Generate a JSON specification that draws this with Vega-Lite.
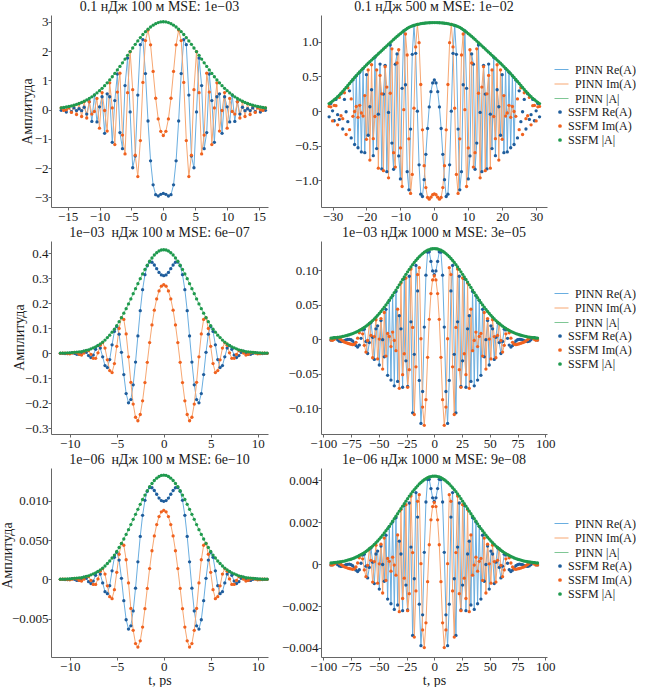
{
  "$schema": "https://vega.github.io/schema/vega-lite/v6.json",
  "padding": {"left": 0, "top": 0, "right": 0, "bottom": 0},
  "data": {
    "values": [
      {"p":1,"t":0,"re":-2.866,"im":-0.887,"ab":3.0},
      {"p":1,"t":0.4,"re":-2.898,"im":-0.746,"ab":2.993},
      {"p":1,"t":0.8,"re":-2.954,"im":-0.32,"ab":2.971},
      {"p":1,"t":1.2,"re":-2.909,"im":0.386,"ab":2.934},
      {"p":1,"t":1.6,"re":-2.574,"im":1.301,"ab":2.884},
      {"p":1,"t":2.0,"re":-1.754,"im":2.21,"ab":2.821},
      {"p":1,"t":2.4,"re":-0.391,"im":2.718,"ab":2.746},
      {"p":1,"t":2.8,"re":1.23,"im":2.357,"ab":2.659},
      {"p":1,"t":3.2,"re":2.39,"im":0.926,"ab":2.563},
      {"p":1,"t":3.6,"re":2.217,"im":-1.061,"ab":2.458},
      {"p":1,"t":4.0,"re":0.494,"im":-2.292,"ab":2.345},
      {"p":1,"t":4.4,"re":-1.591,"im":-1.558,"ab":2.227},
      {"p":1,"t":4.8,"re":-1.99,"im":0.679,"ab":2.103},
      {"p":1,"t":5.2,"re":-0.083,"im":1.977,"ab":1.979},
      {"p":1,"t":5.6,"re":1.759,"im":0.576,"ab":1.851},
      {"p":1,"t":6.0,"re":0.82,"im":-1.516,"ab":1.724},
      {"p":1,"t":6.4,"re":-1.338,"im":-0.872,"ab":1.597},
      {"p":1,"t":6.8,"re":-0.788,"im":1.244,"ab":1.473},
      {"p":1,"t":7.2,"re":1.214,"im":0.595,"ab":1.352},
      {"p":1,"t":7.6,"re":0.306,"im":-1.196,"ab":1.234},
      {"p":1,"t":8.0,"re":-1.12,"im":0.056,"ab":1.121},
      {"p":1,"t":8.4,"re":0.438,"im":0.914,"ab":1.013},
      {"p":1,"t":8.8,"re":0.537,"im":-0.736,"ab":0.911},
      {"p":1,"t":9.2,"re":-0.814,"im":-0.033,"ab":0.815},
      {"p":1,"t":9.6,"re":0.436,"im":0.58,"ab":0.726},
      {"p":1,"t":10.0,"re":0.093,"im":-0.637,"ab":0.644},
      {"p":1,"t":10.4,"re":-0.423,"im":0.38,"ab":0.568},
      {"p":1,"t":10.8,"re":0.494,"im":-0.067,"ab":0.498},
      {"p":1,"t":11.2,"re":-0.406,"im":-0.156,"ab":0.435},
      {"p":1,"t":11.6,"re":0.27,"im":0.264,"ab":0.378},
      {"p":1,"t":12.0,"re":-0.154,"im":-0.289,"ab":0.327},
      {"p":1,"t":12.4,"re":0.077,"im":0.271,"ab":0.282},
      {"p":1,"t":12.8,"re":-0.038,"im":-0.238,"ab":0.241},
      {"p":1,"t":13.2,"re":0.028,"im":0.204,"ab":0.206},
      {"p":1,"t":13.6,"re":-0.036,"im":-0.17,"ab":0.174},
      {"p":1,"t":14.0,"re":0.055,"im":0.136,"ab":0.147},
      {"p":1,"t":14.4,"re":-0.074,"im":-0.098,"ab":0.123},
      {"p":1,"t":14.8,"re":0.087,"im":0.055,"ab":0.103},
      {"p":1,"t":15.2,"re":-0.086,"im":-0.009,"ab":0.086},
      {"p":1,"t":15.6,"re":0.064,"im":-0.031,"ab":0.071},
      {"p":1,"t":16.0,"re":-0.026,"im":0.052,"ab":0.058},
      {"p":1,"t":-0.4,"re":-2.898,"im":-0.746,"ab":2.993},
      {"p":1,"t":-0.8,"re":-2.954,"im":-0.32,"ab":2.971},
      {"p":1,"t":-1.2,"re":-2.909,"im":0.386,"ab":2.934},
      {"p":1,"t":-1.6,"re":-2.574,"im":1.301,"ab":2.884},
      {"p":1,"t":-2.0,"re":-1.754,"im":2.21,"ab":2.821},
      {"p":1,"t":-2.4,"re":-0.391,"im":2.718,"ab":2.746},
      {"p":1,"t":-2.8,"re":1.23,"im":2.357,"ab":2.659},
      {"p":1,"t":-3.2,"re":2.39,"im":0.926,"ab":2.563},
      {"p":1,"t":-3.6,"re":2.217,"im":-1.061,"ab":2.458},
      {"p":1,"t":-4.0,"re":0.494,"im":-2.292,"ab":2.345},
      {"p":1,"t":-4.4,"re":-1.591,"im":-1.558,"ab":2.227},
      {"p":1,"t":-4.8,"re":-1.99,"im":0.679,"ab":2.103},
      {"p":1,"t":-5.2,"re":-0.083,"im":1.977,"ab":1.979},
      {"p":1,"t":-5.6,"re":1.759,"im":0.576,"ab":1.851},
      {"p":1,"t":-6.0,"re":0.82,"im":-1.516,"ab":1.724},
      {"p":1,"t":-6.4,"re":-1.338,"im":-0.872,"ab":1.597},
      {"p":1,"t":-6.8,"re":-0.788,"im":1.244,"ab":1.473},
      {"p":1,"t":-7.2,"re":1.214,"im":0.595,"ab":1.352},
      {"p":1,"t":-7.6,"re":0.306,"im":-1.196,"ab":1.234},
      {"p":1,"t":-8.0,"re":-1.12,"im":0.056,"ab":1.121},
      {"p":1,"t":-8.4,"re":0.438,"im":0.914,"ab":1.013},
      {"p":1,"t":-8.8,"re":0.537,"im":-0.736,"ab":0.911},
      {"p":1,"t":-9.2,"re":-0.814,"im":-0.033,"ab":0.815},
      {"p":1,"t":-9.6,"re":0.436,"im":0.58,"ab":0.726},
      {"p":1,"t":-10.0,"re":0.093,"im":-0.637,"ab":0.644},
      {"p":1,"t":-10.4,"re":-0.423,"im":0.38,"ab":0.568},
      {"p":1,"t":-10.8,"re":0.494,"im":-0.067,"ab":0.498},
      {"p":1,"t":-11.2,"re":-0.406,"im":-0.156,"ab":0.435},
      {"p":1,"t":-11.6,"re":0.27,"im":0.264,"ab":0.378},
      {"p":1,"t":-12.0,"re":-0.154,"im":-0.289,"ab":0.327},
      {"p":1,"t":-12.4,"re":0.077,"im":0.271,"ab":0.282},
      {"p":1,"t":-12.8,"re":-0.038,"im":-0.238,"ab":0.241},
      {"p":1,"t":-13.2,"re":0.028,"im":0.204,"ab":0.206},
      {"p":1,"t":-13.6,"re":-0.036,"im":-0.17,"ab":0.174},
      {"p":1,"t":-14.0,"re":0.055,"im":0.136,"ab":0.147},
      {"p":1,"t":-14.4,"re":-0.074,"im":-0.098,"ab":0.123},
      {"p":1,"t":-14.8,"re":0.087,"im":0.055,"ab":0.103},
      {"p":1,"t":-15.2,"re":-0.086,"im":-0.009,"ab":0.086},
      {"p":1,"t":-15.6,"re":0.064,"im":-0.031,"ab":0.071},
      {"p":1,"t":-16.0,"re":-0.026,"im":0.052,"ab":0.058},

      {"p":2,"t":0,"re":0.449,"im":-1.199,"ab":1.28},
      {"p":2,"t":0.5,"re":0.407,"im":-1.213,"ab":1.28},
      {"p":2,"t":1,"re":0.28,"im":-1.248,"ab":1.279},
      {"p":2,"t":1.5,"re":0.059,"im":-1.277,"ab":1.278},
      {"p":2,"t":2,"re":-0.253,"im":-1.251,"ab":1.276},
      {"p":2,"t":2.5,"re":-0.627,"im":-1.109,"ab":1.274},
      {"p":2,"t":3,"re":-0.994,"im":-0.792,"ab":1.271},
      {"p":2,"t":3.5,"re":-1.238,"im":-0.272,"ab":1.268},
      {"p":2,"t":4,"re":-1.204,"im":0.384,"ab":1.264},
      {"p":2,"t":4.5,"re":-0.779,"im":0.989,"ab":1.259},
      {"p":2,"t":5,"re":-0.003,"im":1.254,"ab":1.254},
      {"p":2,"t":5.5,"re":0.835,"im":0.928,"ab":1.248},
      {"p":2,"t":6,"re":1.239,"im":0.041,"ab":1.24},
      {"p":2,"t":6.5,"re":0.82,"im":-0.918,"ab":1.231},
      {"p":2,"t":7,"re":-0.262,"im":-1.194,"ab":1.222},
      {"p":2,"t":7.5,"re":-1.141,"im":-0.403,"ab":1.21},
      {"p":2,"t":8,"re":-0.878,"im":0.811,"ab":1.195},
      {"p":2,"t":8.5,"re":0.38,"im":1.115,"ab":1.178},
      {"p":2,"t":9,"re":1.16,"im":0.019,"ab":1.16},
      {"p":2,"t":9.5,"re":0.328,"im":-1.093,"ab":1.141},
      {"p":2,"t":10,"re":-0.984,"im":-0.535,"ab":1.12},
      {"p":2,"t":10.5,"re":-0.651,"im":0.887,"ab":1.1},
      {"p":2,"t":11,"re":0.826,"im":0.695,"ab":1.08},
      {"p":2,"t":11.5,"re":0.678,"im":-0.812,"ab":1.058},
      {"p":2,"t":12,"re":-0.843,"im":-0.603,"ab":1.036},
      {"p":2,"t":12.5,"re":-0.465,"im":0.9,"ab":1.013},
      {"p":2,"t":13,"re":0.956,"im":0.257,"ab":0.99},
      {"p":2,"t":13.5,"re":-0.021,"im":-0.967,"ab":0.967},
      {"p":2,"t":14,"re":-0.878,"im":0.347,"ab":0.944},
      {"p":2,"t":14.5,"re":0.661,"im":0.642,"ab":0.921},
      {"p":2,"t":15,"re":0.245,"im":-0.864,"ab":0.898},
      {"p":2,"t":15.5,"re":-0.839,"im":0.248,"ab":0.875},
      {"p":2,"t":16,"re":0.679,"im":0.515,"ab":0.852},
      {"p":2,"t":16.5,"re":-0.046,"im":-0.828,"ab":0.829},
      {"p":2,"t":17,"re":-0.544,"im":0.595,"ab":0.806},
      {"p":2,"t":17.5,"re":0.779,"im":-0.08,"ab":0.783},
      {"p":2,"t":18,"re":-0.647,"im":-0.4,"ab":0.76},
      {"p":2,"t":18.5,"re":0.308,"im":0.67,"ab":0.737},
      {"p":2,"t":19,"re":0.062,"im":-0.711,"ab":0.714},
      {"p":2,"t":19.5,"re":-0.351,"im":0.595,"ab":0.691},
      {"p":2,"t":20,"re":0.526,"im":-0.41,"ab":0.667},
      {"p":2,"t":20.5,"re":-0.603,"im":0.223,"ab":0.643},
      {"p":2,"t":21,"re":0.614,"im":-0.073,"ab":0.618},
      {"p":2,"t":21.5,"re":-0.592,"im":-0.029,"ab":0.593},
      {"p":2,"t":22,"re":0.561,"im":0.082,"ab":0.567},
      {"p":2,"t":22.5,"re":-0.532,"im":-0.092,"ab":0.54},
      {"p":2,"t":23,"re":0.509,"im":0.066,"ab":0.513},
      {"p":2,"t":23.5,"re":-0.485,"im":-0.007,"ab":0.485},
      {"p":2,"t":24,"re":0.45,"im":-0.077,"ab":0.456},
      {"p":2,"t":24.5,"re":-0.39,"im":0.175,"ab":0.427},
      {"p":2,"t":25,"re":0.292,"im":-0.27,"ab":0.398},
      {"p":2,"t":25.5,"re":-0.155,"im":0.335,"ab":0.369},
      {"p":2,"t":26,"re":-0.011,"im":-0.34,"ab":0.34},
      {"p":2,"t":26.5,"re":0.167,"im":0.264,"ab":0.312},
      {"p":2,"t":27,"re":-0.261,"im":-0.111,"ab":0.284},
      {"p":2,"t":27.5,"re":0.248,"im":-0.069,"ab":0.257},
      {"p":2,"t":28,"re":-0.122,"im":0.196,"ab":0.231},
      {"p":2,"t":28.5,"re":-0.053,"im":-0.2,"ab":0.207},
      {"p":2,"t":29,"re":0.167,"im":0.077,"ab":0.184},
      {"p":2,"t":29.5,"re":-0.141,"im":0.081,"ab":0.163},
      {"p":2,"t":30,"re":0.003,"im":-0.143,"ab":0.143},
      {"p":2,"t":30.5,"re":0.11,"im":0.06,"ab":0.125},
      {"p":2,"t":31,"re":-0.085,"im":0.066,"ab":0.108},
      {"p":2,"t":-0.5,"re":0.407,"im":-1.213,"ab":1.28},
      {"p":2,"t":-1,"re":0.28,"im":-1.248,"ab":1.279},
      {"p":2,"t":-1.5,"re":0.059,"im":-1.277,"ab":1.278},
      {"p":2,"t":-2,"re":-0.253,"im":-1.251,"ab":1.276},
      {"p":2,"t":-2.5,"re":-0.627,"im":-1.109,"ab":1.274},
      {"p":2,"t":-3,"re":-0.994,"im":-0.792,"ab":1.271},
      {"p":2,"t":-3.5,"re":-1.238,"im":-0.272,"ab":1.268},
      {"p":2,"t":-4,"re":-1.204,"im":0.384,"ab":1.264},
      {"p":2,"t":-4.5,"re":-0.779,"im":0.989,"ab":1.259},
      {"p":2,"t":-5,"re":-0.003,"im":1.254,"ab":1.254},
      {"p":2,"t":-5.5,"re":0.835,"im":0.928,"ab":1.248},
      {"p":2,"t":-6,"re":1.239,"im":0.041,"ab":1.24},
      {"p":2,"t":-6.5,"re":0.82,"im":-0.918,"ab":1.231},
      {"p":2,"t":-7,"re":-0.262,"im":-1.194,"ab":1.222},
      {"p":2,"t":-7.5,"re":-1.141,"im":-0.403,"ab":1.21},
      {"p":2,"t":-8,"re":-0.878,"im":0.811,"ab":1.195},
      {"p":2,"t":-8.5,"re":0.38,"im":1.115,"ab":1.178},
      {"p":2,"t":-9,"re":1.16,"im":0.019,"ab":1.16},
      {"p":2,"t":-9.5,"re":0.328,"im":-1.093,"ab":1.141},
      {"p":2,"t":-10,"re":-0.984,"im":-0.535,"ab":1.12},
      {"p":2,"t":-10.5,"re":-0.651,"im":0.887,"ab":1.1},
      {"p":2,"t":-11,"re":0.826,"im":0.695,"ab":1.08},
      {"p":2,"t":-11.5,"re":0.678,"im":-0.812,"ab":1.058},
      {"p":2,"t":-12,"re":-0.843,"im":-0.603,"ab":1.036},
      {"p":2,"t":-12.5,"re":-0.465,"im":0.9,"ab":1.013},
      {"p":2,"t":-13,"re":0.956,"im":0.257,"ab":0.99},
      {"p":2,"t":-13.5,"re":-0.021,"im":-0.967,"ab":0.967},
      {"p":2,"t":-14,"re":-0.878,"im":0.347,"ab":0.944},
      {"p":2,"t":-14.5,"re":0.661,"im":0.642,"ab":0.921},
      {"p":2,"t":-15,"re":0.245,"im":-0.864,"ab":0.898},
      {"p":2,"t":-15.5,"re":-0.839,"im":0.248,"ab":0.875},
      {"p":2,"t":-16,"re":0.679,"im":0.515,"ab":0.852},
      {"p":2,"t":-16.5,"re":-0.046,"im":-0.828,"ab":0.829},
      {"p":2,"t":-17,"re":-0.544,"im":0.595,"ab":0.806},
      {"p":2,"t":-17.5,"re":0.779,"im":-0.08,"ab":0.783},
      {"p":2,"t":-18,"re":-0.647,"im":-0.4,"ab":0.76},
      {"p":2,"t":-18.5,"re":0.308,"im":0.67,"ab":0.737},
      {"p":2,"t":-19,"re":0.062,"im":-0.711,"ab":0.714},
      {"p":2,"t":-19.5,"re":-0.351,"im":0.595,"ab":0.691},
      {"p":2,"t":-20,"re":0.526,"im":-0.41,"ab":0.667},
      {"p":2,"t":-20.5,"re":-0.603,"im":0.223,"ab":0.643},
      {"p":2,"t":-21,"re":0.614,"im":-0.073,"ab":0.618},
      {"p":2,"t":-21.5,"re":-0.592,"im":-0.029,"ab":0.593},
      {"p":2,"t":-22,"re":0.561,"im":0.082,"ab":0.567},
      {"p":2,"t":-22.5,"re":-0.532,"im":-0.092,"ab":0.54},
      {"p":2,"t":-23,"re":0.509,"im":0.066,"ab":0.513},
      {"p":2,"t":-23.5,"re":-0.485,"im":-0.007,"ab":0.485},
      {"p":2,"t":-24,"re":0.45,"im":-0.077,"ab":0.456},
      {"p":2,"t":-24.5,"re":-0.39,"im":0.175,"ab":0.427},
      {"p":2,"t":-25,"re":0.292,"im":-0.27,"ab":0.398},
      {"p":2,"t":-25.5,"re":-0.155,"im":0.335,"ab":0.369},
      {"p":2,"t":-26,"re":-0.011,"im":-0.34,"ab":0.34},
      {"p":2,"t":-26.5,"re":0.167,"im":0.264,"ab":0.312},
      {"p":2,"t":-27,"re":-0.261,"im":-0.111,"ab":0.284},
      {"p":2,"t":-27.5,"re":0.248,"im":-0.069,"ab":0.257},
      {"p":2,"t":-28,"re":-0.122,"im":0.196,"ab":0.231},
      {"p":2,"t":-28.5,"re":-0.053,"im":-0.2,"ab":0.207},
      {"p":2,"t":-29,"re":0.167,"im":0.077,"ab":0.184},
      {"p":2,"t":-29.5,"re":-0.141,"im":0.081,"ab":0.163},
      {"p":2,"t":-30,"re":0.003,"im":-0.143,"ab":0.143},
      {"p":2,"t":-30.5,"re":0.11,"im":0.06,"ab":0.125},
      {"p":2,"t":-31,"re":-0.085,"im":0.066,"ab":0.108},

      {"p":3,"t":0,"re":0.311,"im":0.275,"ab":0.415},
      {"p":3,"t":0.25,"re":0.314,"im":0.269,"ab":0.414},
      {"p":3,"t":0.5,"re":0.324,"im":0.25,"ab":0.41},
      {"p":3,"t":0.75,"re":0.339,"im":0.218,"ab":0.403},
      {"p":3,"t":1.0,"re":0.354,"im":0.173,"ab":0.394},
      {"p":3,"t":1.25,"re":0.365,"im":0.114,"ab":0.382},
      {"p":3,"t":1.5,"re":0.366,"im":0.043,"ab":0.369},
      {"p":3,"t":1.75,"re":0.351,"im":-0.036,"ab":0.353},
      {"p":3,"t":2.0,"re":0.315,"im":-0.117,"ab":0.336},
      {"p":3,"t":2.25,"re":0.255,"im":-0.19,"ab":0.318},
      {"p":3,"t":2.5,"re":0.171,"im":-0.245,"ab":0.299},
      {"p":3,"t":2.75,"re":0.07,"im":-0.27,"ab":0.279},
      {"p":3,"t":3.0,"re":-0.035,"im":-0.256,"ab":0.259},
      {"p":3,"t":3.25,"re":-0.126,"im":-0.203,"ab":0.239},
      {"p":3,"t":3.5,"re":-0.185,"im":-0.116,"ab":0.218},
      {"p":3,"t":3.75,"re":-0.198,"im":-0.014,"ab":0.198},
      {"p":3,"t":4.0,"re":-0.161,"im":0.078,"ab":0.179},
      {"p":3,"t":4.25,"re":-0.085,"im":0.136,"ab":0.161},
      {"p":3,"t":4.5,"re":0.004,"im":0.143,"ab":0.143},
      {"p":3,"t":4.75,"re":0.077,"im":0.1,"ab":0.127},
      {"p":3,"t":5.0,"re":0.108,"im":0.028,"ab":0.111},
      {"p":3,"t":5.25,"re":0.088,"im":-0.041,"ab":0.097},
      {"p":3,"t":5.5,"re":0.034,"im":-0.077,"ab":0.085},
      {"p":3,"t":5.75,"re":-0.025,"im":-0.069,"ab":0.073},
      {"p":3,"t":6.0,"re":-0.057,"im":-0.026,"ab":0.063},
      {"p":3,"t":6.25,"re":-0.049,"im":0.021,"ab":0.053},
      {"p":3,"t":6.5,"re":-0.014,"im":0.043,"ab":0.045},
      {"p":3,"t":6.75,"re":0.021,"im":0.032,"ab":0.038},
      {"p":3,"t":7.0,"re":0.031,"im":0.002,"ab":0.032},
      {"p":3,"t":7.25,"re":0.016,"im":-0.02,"ab":0.026},
      {"p":3,"t":7.5,"re":-0.007,"im":-0.02,"ab":0.022},
      {"p":3,"t":7.75,"re":-0.017,"im":-0.004,"ab":0.018},
      {"p":3,"t":8.0,"re":-0.009,"im":0.011,"ab":0.014},
      {"p":3,"t":8.25,"re":0.004,"im":0.011,"ab":0.012},
      {"p":3,"t":8.5,"re":0.009,"im":0.001,"ab":0.009},
      {"p":3,"t":8.75,"re":0.003,"im":-0.007,"ab":0.007},
      {"p":3,"t":9.0,"re":-0.004,"im":-0.004,"ab":0.006},
      {"p":3,"t":9.25,"re":-0.004,"im":0.002,"ab":0.005},
      {"p":3,"t":9.5,"re":0.0,"im":0.004,"ab":0.004},
      {"p":3,"t":9.75,"re":0.003,"im":0.001,"ab":0.003},
      {"p":3,"t":10.0,"re":0.001,"im":-0.002,"ab":0.002},
      {"p":3,"t":10.25,"re":-0.001,"im":-0.001,"ab":0.002},
      {"p":3,"t":10.5,"re":-0.001,"im":0.001,"ab":0.001},
      {"p":3,"t":10.75,"re":0.0,"im":0.001,"ab":0.001},
      {"p":3,"t":11.0,"re":0.0,"im":0.0,"ab":0.001},
      {"p":3,"t":-0.25,"re":0.314,"im":0.269,"ab":0.414},
      {"p":3,"t":-0.5,"re":0.324,"im":0.25,"ab":0.41},
      {"p":3,"t":-0.75,"re":0.339,"im":0.218,"ab":0.403},
      {"p":3,"t":-1.0,"re":0.354,"im":0.173,"ab":0.394},
      {"p":3,"t":-1.25,"re":0.365,"im":0.114,"ab":0.382},
      {"p":3,"t":-1.5,"re":0.366,"im":0.043,"ab":0.369},
      {"p":3,"t":-1.75,"re":0.351,"im":-0.036,"ab":0.353},
      {"p":3,"t":-2.0,"re":0.315,"im":-0.117,"ab":0.336},
      {"p":3,"t":-2.25,"re":0.255,"im":-0.19,"ab":0.318},
      {"p":3,"t":-2.5,"re":0.171,"im":-0.245,"ab":0.299},
      {"p":3,"t":-2.75,"re":0.07,"im":-0.27,"ab":0.279},
      {"p":3,"t":-3.0,"re":-0.035,"im":-0.256,"ab":0.259},
      {"p":3,"t":-3.25,"re":-0.126,"im":-0.203,"ab":0.239},
      {"p":3,"t":-3.5,"re":-0.185,"im":-0.116,"ab":0.218},
      {"p":3,"t":-3.75,"re":-0.198,"im":-0.014,"ab":0.198},
      {"p":3,"t":-4.0,"re":-0.161,"im":0.078,"ab":0.179},
      {"p":3,"t":-4.25,"re":-0.085,"im":0.136,"ab":0.161},
      {"p":3,"t":-4.5,"re":0.004,"im":0.143,"ab":0.143},
      {"p":3,"t":-4.75,"re":0.077,"im":0.1,"ab":0.127},
      {"p":3,"t":-5.0,"re":0.108,"im":0.028,"ab":0.111},
      {"p":3,"t":-5.25,"re":0.088,"im":-0.041,"ab":0.097},
      {"p":3,"t":-5.5,"re":0.034,"im":-0.077,"ab":0.085},
      {"p":3,"t":-5.75,"re":-0.025,"im":-0.069,"ab":0.073},
      {"p":3,"t":-6.0,"re":-0.057,"im":-0.026,"ab":0.063},
      {"p":3,"t":-6.25,"re":-0.049,"im":0.021,"ab":0.053},
      {"p":3,"t":-6.5,"re":-0.014,"im":0.043,"ab":0.045},
      {"p":3,"t":-6.75,"re":0.021,"im":0.032,"ab":0.038},
      {"p":3,"t":-7.0,"re":0.031,"im":0.002,"ab":0.032},
      {"p":3,"t":-7.25,"re":0.016,"im":-0.02,"ab":0.026},
      {"p":3,"t":-7.5,"re":-0.007,"im":-0.02,"ab":0.022},
      {"p":3,"t":-7.75,"re":-0.017,"im":-0.004,"ab":0.018},
      {"p":3,"t":-8.0,"re":-0.009,"im":0.011,"ab":0.014},
      {"p":3,"t":-8.25,"re":0.004,"im":0.011,"ab":0.012},
      {"p":3,"t":-8.5,"re":0.009,"im":0.001,"ab":0.009},
      {"p":3,"t":-8.75,"re":0.003,"im":-0.007,"ab":0.007},
      {"p":3,"t":-9.0,"re":-0.004,"im":-0.004,"ab":0.006},
      {"p":3,"t":-9.25,"re":-0.004,"im":0.002,"ab":0.005},
      {"p":3,"t":-9.5,"re":0.0,"im":0.004,"ab":0.004},
      {"p":3,"t":-9.75,"re":0.003,"im":0.001,"ab":0.003},
      {"p":3,"t":-10.0,"re":0.001,"im":-0.002,"ab":0.002},
      {"p":3,"t":-10.25,"re":-0.001,"im":-0.001,"ab":0.002},
      {"p":3,"t":-10.5,"re":-0.001,"im":0.001,"ab":0.001},
      {"p":3,"t":-10.75,"re":0.0,"im":0.001,"ab":0.001},
      {"p":3,"t":-11.0,"re":0.0,"im":0.0,"ab":0.001},

      {"p":4,"t":0,"re":0.0935,"im":0.0918,"ab":0.131},
      {"p":4,"t":1.5,"re":0.0988,"im":0.0857,"ab":0.1308},
      {"p":4,"t":3,"re":0.1125,"im":0.066,"ab":0.1304},
      {"p":4,"t":4.5,"re":0.1264,"im":0.0288,"ab":0.1296},
      {"p":4,"t":6,"re":0.1259,"im":-0.0262,"ab":0.1286},
      {"p":4,"t":7.5,"re":0.0926,"im":-0.0874,"ab":0.1273},
      {"p":4,"t":9,"re":0.0175,"im":-0.1245,"ab":0.1257},
      {"p":4,"t":10.5,"re":-0.0756,"im":-0.0981,"ab":0.1238},
      {"p":4,"t":12,"re":-0.1217,"im":0.0007,"ab":0.1217},
      {"p":4,"t":13.5,"re":-0.0596,"im":0.1034,"ab":0.1193},
      {"p":4,"t":15,"re":0.0699,"im":0.0935,"ab":0.1167},
      {"p":4,"t":16.5,"re":0.1067,"im":-0.0399,"ab":0.1139},
      {"p":4,"t":18,"re":-0.0218,"im":-0.1088,"ab":0.111},
      {"p":4,"t":19.5,"re":-0.1064,"im":0.0171,"ab":0.1078},
      {"p":4,"t":21,"re":0.0252,"im":0.1014,"ab":0.1045},
      {"p":4,"t":22.5,"re":0.091,"im":-0.044,"ab":0.1011},
      {"p":4,"t":24,"re":-0.0683,"im":-0.0695,"ab":0.0975},
      {"p":4,"t":25.5,"re":-0.0312,"im":0.0885,"ab":0.0938},
      {"p":4,"t":27,"re":0.0876,"im":-0.021,"ab":0.0901},
      {"p":4,"t":28.5,"re":-0.0694,"im":-0.0513,"ab":0.0863},
      {"p":4,"t":30,"re":0.015,"im":0.0812,"ab":0.0826},
      {"p":4,"t":31.5,"re":0.034,"im":-0.071,"ab":0.0787},
      {"p":4,"t":33,"re":-0.061,"im":0.0434,"ab":0.0749},
      {"p":4,"t":34.5,"re":0.0691,"im":-0.0166,"ab":0.0711},
      {"p":4,"t":36,"re":-0.0674,"im":-0.0017,"ab":0.0674},
      {"p":4,"t":37.5,"re":0.0628,"im":0.0103,"ab":0.0636},
      {"p":4,"t":39,"re":-0.0591,"im":-0.0106,"ab":0.06},
      {"p":4,"t":40.5,"re":0.0563,"im":0.004,"ab":0.0564},
      {"p":4,"t":42,"re":-0.0522,"im":0.0084,"ab":0.0529},
      {"p":4,"t":43.5,"re":0.0432,"im":-0.0243,"ab":0.0496},
      {"p":4,"t":45,"re":-0.0255,"im":0.0386,"ab":0.0463},
      {"p":4,"t":46.5,"re":-0.0006,"im":-0.0432,"ab":0.0432},
      {"p":4,"t":48,"re":0.0269,"im":0.0298,"ab":0.0401},
      {"p":4,"t":49.5,"re":-0.0373,"im":0.0002,"ab":0.0373},
      {"p":4,"t":51,"re":0.0194,"im":-0.0285,"ab":0.0345},
      {"p":4,"t":52.5,"re":0.015,"im":0.0282,"ab":0.0319},
      {"p":4,"t":54,"re":-0.0292,"im":0.0038,"ab":0.0294},
      {"p":4,"t":55.5,"re":0.0029,"im":-0.0268,"ab":0.027},
      {"p":4,"t":57,"re":0.0242,"im":0.0055,"ab":0.0248},
      {"p":4,"t":58.5,"re":-0.0049,"im":0.0222,"ab":0.0227},
      {"p":4,"t":60,"re":-0.0206,"im":-0.0018,"ab":0.0207},
      {"p":4,"t":61.5,"re":-0.0032,"im":-0.0186,"ab":0.0189},
      {"p":4,"t":63,"re":0.0146,"im":-0.0088,"ab":0.0171},
      {"p":4,"t":64.5,"re":0.0134,"im":0.0078,"ab":0.0155},
      {"p":4,"t":66,"re":0.0013,"im":0.0139,"ab":0.014},
      {"p":4,"t":67.5,"re":-0.0085,"im":0.0094,"ab":0.0127},
      {"p":4,"t":69,"re":-0.0113,"im":0.0015,"ab":0.0114},
      {"p":4,"t":70.5,"re":-0.0092,"im":-0.0045,"ab":0.0102},
      {"p":4,"t":72,"re":-0.0056,"im":-0.0073,"ab":0.0092},
      {"p":4,"t":73.5,"re":-0.0026,"im":-0.0078,"ab":0.0082},
      {"p":4,"t":75,"re":-0.0008,"im":-0.0073,"ab":0.0073},
      {"p":4,"t":76.5,"re":-0.0001,"im":-0.0065,"ab":0.0065},
      {"p":4,"t":78,"re":-0.0003,"im":-0.0058,"ab":0.0058},
      {"p":4,"t":79.5,"re":-0.001,"im":-0.005,"ab":0.0051},
      {"p":4,"t":81,"re":-0.0021,"im":-0.004,"ab":0.0045},
      {"p":4,"t":82.5,"re":-0.0031,"im":-0.0026,"ab":0.004},
      {"p":4,"t":84,"re":-0.0034,"im":-0.0006,"ab":0.0035},
      {"p":4,"t":85.5,"re":-0.0028,"im":0.0014,"ab":0.0031},
      {"p":4,"t":87,"re":-0.0009,"im":0.0025,"ab":0.0027},
      {"p":4,"t":88.5,"re":0.0013,"im":0.002,"ab":0.0024},
      {"p":4,"t":90,"re":0.0021,"im":0.0,"ab":0.0021},
      {"p":4,"t":91.5,"re":0.0008,"im":-0.0016,"ab":0.0018},
      {"p":4,"t":93,"re":-0.0012,"im":-0.0011,"ab":0.0016},
      {"p":4,"t":-1.5,"re":0.0988,"im":0.0857,"ab":0.1308},
      {"p":4,"t":-3,"re":0.1125,"im":0.066,"ab":0.1304},
      {"p":4,"t":-4.5,"re":0.1264,"im":0.0288,"ab":0.1296},
      {"p":4,"t":-6,"re":0.1259,"im":-0.0262,"ab":0.1286},
      {"p":4,"t":-7.5,"re":0.0926,"im":-0.0874,"ab":0.1273},
      {"p":4,"t":-9,"re":0.0175,"im":-0.1245,"ab":0.1257},
      {"p":4,"t":-10.5,"re":-0.0756,"im":-0.0981,"ab":0.1238},
      {"p":4,"t":-12,"re":-0.1217,"im":0.0007,"ab":0.1217},
      {"p":4,"t":-13.5,"re":-0.0596,"im":0.1034,"ab":0.1193},
      {"p":4,"t":-15,"re":0.0699,"im":0.0935,"ab":0.1167},
      {"p":4,"t":-16.5,"re":0.1067,"im":-0.0399,"ab":0.1139},
      {"p":4,"t":-18,"re":-0.0218,"im":-0.1088,"ab":0.111},
      {"p":4,"t":-19.5,"re":-0.1064,"im":0.0171,"ab":0.1078},
      {"p":4,"t":-21,"re":0.0252,"im":0.1014,"ab":0.1045},
      {"p":4,"t":-22.5,"re":0.091,"im":-0.044,"ab":0.1011},
      {"p":4,"t":-24,"re":-0.0683,"im":-0.0695,"ab":0.0975},
      {"p":4,"t":-25.5,"re":-0.0312,"im":0.0885,"ab":0.0938},
      {"p":4,"t":-27,"re":0.0876,"im":-0.021,"ab":0.0901},
      {"p":4,"t":-28.5,"re":-0.0694,"im":-0.0513,"ab":0.0863},
      {"p":4,"t":-30,"re":0.015,"im":0.0812,"ab":0.0826},
      {"p":4,"t":-31.5,"re":0.034,"im":-0.071,"ab":0.0787},
      {"p":4,"t":-33,"re":-0.061,"im":0.0434,"ab":0.0749},
      {"p":4,"t":-34.5,"re":0.0691,"im":-0.0166,"ab":0.0711},
      {"p":4,"t":-36,"re":-0.0674,"im":-0.0017,"ab":0.0674},
      {"p":4,"t":-37.5,"re":0.0628,"im":0.0103,"ab":0.0636},
      {"p":4,"t":-39,"re":-0.0591,"im":-0.0106,"ab":0.06},
      {"p":4,"t":-40.5,"re":0.0563,"im":0.004,"ab":0.0564},
      {"p":4,"t":-42,"re":-0.0522,"im":0.0084,"ab":0.0529},
      {"p":4,"t":-43.5,"re":0.0432,"im":-0.0243,"ab":0.0496},
      {"p":4,"t":-45,"re":-0.0255,"im":0.0386,"ab":0.0463},
      {"p":4,"t":-46.5,"re":-0.0006,"im":-0.0432,"ab":0.0432},
      {"p":4,"t":-48,"re":0.0269,"im":0.0298,"ab":0.0401},
      {"p":4,"t":-49.5,"re":-0.0373,"im":0.0002,"ab":0.0373},
      {"p":4,"t":-51,"re":0.0194,"im":-0.0285,"ab":0.0345},
      {"p":4,"t":-52.5,"re":0.015,"im":0.0282,"ab":0.0319},
      {"p":4,"t":-54,"re":-0.0292,"im":0.0038,"ab":0.0294},
      {"p":4,"t":-55.5,"re":0.0029,"im":-0.0268,"ab":0.027},
      {"p":4,"t":-57,"re":0.0242,"im":0.0055,"ab":0.0248},
      {"p":4,"t":-58.5,"re":-0.0049,"im":0.0222,"ab":0.0227},
      {"p":4,"t":-60,"re":-0.0206,"im":-0.0018,"ab":0.0207},
      {"p":4,"t":-61.5,"re":-0.0032,"im":-0.0186,"ab":0.0189},
      {"p":4,"t":-63,"re":0.0146,"im":-0.0088,"ab":0.0171},
      {"p":4,"t":-64.5,"re":0.0134,"im":0.0078,"ab":0.0155},
      {"p":4,"t":-66,"re":0.0013,"im":0.0139,"ab":0.014},
      {"p":4,"t":-67.5,"re":-0.0085,"im":0.0094,"ab":0.0127},
      {"p":4,"t":-69,"re":-0.0113,"im":0.0015,"ab":0.0114},
      {"p":4,"t":-70.5,"re":-0.0092,"im":-0.0045,"ab":0.0102},
      {"p":4,"t":-72,"re":-0.0056,"im":-0.0073,"ab":0.0092},
      {"p":4,"t":-73.5,"re":-0.0026,"im":-0.0078,"ab":0.0082},
      {"p":4,"t":-75,"re":-0.0008,"im":-0.0073,"ab":0.0073},
      {"p":4,"t":-76.5,"re":-0.0001,"im":-0.0065,"ab":0.0065},
      {"p":4,"t":-78,"re":-0.0003,"im":-0.0058,"ab":0.0058},
      {"p":4,"t":-79.5,"re":-0.001,"im":-0.005,"ab":0.0051},
      {"p":4,"t":-81,"re":-0.0021,"im":-0.004,"ab":0.0045},
      {"p":4,"t":-82.5,"re":-0.0031,"im":-0.0026,"ab":0.004},
      {"p":4,"t":-84,"re":-0.0034,"im":-0.0006,"ab":0.0035},
      {"p":4,"t":-85.5,"re":-0.0028,"im":0.0014,"ab":0.0031},
      {"p":4,"t":-87,"re":-0.0009,"im":0.0025,"ab":0.0027},
      {"p":4,"t":-88.5,"re":0.0013,"im":0.002,"ab":0.0024},
      {"p":4,"t":-90,"re":0.0021,"im":0.0,"ab":0.0021},
      {"p":4,"t":-91.5,"re":0.0008,"im":-0.0016,"ab":0.0018},
      {"p":4,"t":-93,"re":-0.0012,"im":-0.0011,"ab":0.0016},

      {"p":5,"t":0,"re":0.00995,"im":0.0088,"ab":0.01328},
      {"p":5,"t":0.25,"re":0.01005,"im":0.00861,"ab":0.01325},
      {"p":5,"t":0.5,"re":0.01037,"im":0.008,"ab":0.01312},
      {"p":5,"t":0.75,"re":0.01085,"im":0.00698,"ab":0.0129},
      {"p":5,"t":1.0,"re":0.01133,"im":0.00554,"ab":0.01261},
      {"p":5,"t":1.25,"re":0.01168,"im":0.00365,"ab":0.01222},
      {"p":5,"t":1.5,"re":0.01171,"im":0.00138,"ab":0.01181},
      {"p":5,"t":1.75,"re":0.01123,"im":-0.00115,"ab":0.0113},
      {"p":5,"t":2.0,"re":0.01008,"im":-0.00374,"ab":0.01075},
      {"p":5,"t":2.25,"re":0.00816,"im":-0.00608,"ab":0.01018},
      {"p":5,"t":2.5,"re":0.00547,"im":-0.00784,"ab":0.00957},
      {"p":5,"t":2.75,"re":0.00224,"im":-0.00864,"ab":0.00893},
      {"p":5,"t":3.0,"re":-0.00112,"im":-0.00819,"ab":0.00829},
      {"p":5,"t":3.25,"re":-0.00403,"im":-0.0065,"ab":0.00765},
      {"p":5,"t":3.5,"re":-0.00592,"im":-0.00371,"ab":0.00698},
      {"p":5,"t":3.75,"re":-0.00634,"im":-0.00045,"ab":0.00634},
      {"p":5,"t":4.0,"re":-0.00515,"im":0.0025,"ab":0.00573},
      {"p":5,"t":4.25,"re":-0.00272,"im":0.00435,"ab":0.00515},
      {"p":5,"t":4.5,"re":0.00013,"im":0.00458,"ab":0.00458},
      {"p":5,"t":4.75,"re":0.00246,"im":0.0032,"ab":0.00406},
      {"p":5,"t":5.0,"re":0.00346,"im":0.0009,"ab":0.00355},
      {"p":5,"t":5.25,"re":0.00282,"im":-0.00131,"ab":0.0031},
      {"p":5,"t":5.5,"re":0.00109,"im":-0.00246,"ab":0.00272},
      {"p":5,"t":5.75,"re":-0.0008,"im":-0.00221,"ab":0.00234},
      {"p":5,"t":6.0,"re":-0.00182,"im":-0.00083,"ab":0.00202},
      {"p":5,"t":6.25,"re":-0.00157,"im":0.00067,"ab":0.0017},
      {"p":5,"t":6.5,"re":-0.00045,"im":0.00138,"ab":0.00144},
      {"p":5,"t":6.75,"re":0.00067,"im":0.00102,"ab":0.00122},
      {"p":5,"t":7.0,"re":0.00099,"im":0.00006,"ab":0.00102},
      {"p":5,"t":7.25,"re":0.00051,"im":-0.00064,"ab":0.00083},
      {"p":5,"t":7.5,"re":-0.00022,"im":-0.00064,"ab":0.0007},
      {"p":5,"t":7.75,"re":-0.00054,"im":-0.00013,"ab":0.00058},
      {"p":5,"t":8.0,"re":-0.00029,"im":0.00035,"ab":0.00045},
      {"p":5,"t":8.25,"re":0.00013,"im":0.00035,"ab":0.00038},
      {"p":5,"t":8.5,"re":0.00029,"im":0.00003,"ab":0.00029},
      {"p":5,"t":8.75,"re":0.0001,"im":-0.00022,"ab":0.00022},
      {"p":5,"t":9.0,"re":-0.00013,"im":-0.00013,"ab":0.00019},
      {"p":5,"t":9.25,"re":-0.00013,"im":0.00006,"ab":0.00016},
      {"p":5,"t":9.5,"re":0.0,"im":0.00013,"ab":0.00013},
      {"p":5,"t":9.75,"re":0.0001,"im":0.00003,"ab":0.0001},
      {"p":5,"t":10.0,"re":0.00003,"im":-0.00006,"ab":0.00006},
      {"p":5,"t":10.25,"re":-0.00003,"im":-0.00003,"ab":0.00006},
      {"p":5,"t":10.5,"re":-0.00003,"im":0.00003,"ab":0.00003},
      {"p":5,"t":10.75,"re":0.0,"im":0.00003,"ab":0.00003},
      {"p":5,"t":11.0,"re":0.0,"im":0.0,"ab":0.00003},
      {"p":5,"t":-0.25,"re":0.01005,"im":0.00861,"ab":0.01325},
      {"p":5,"t":-0.5,"re":0.01037,"im":0.008,"ab":0.01312},
      {"p":5,"t":-0.75,"re":0.01085,"im":0.00698,"ab":0.0129},
      {"p":5,"t":-1.0,"re":0.01133,"im":0.00554,"ab":0.01261},
      {"p":5,"t":-1.25,"re":0.01168,"im":0.00365,"ab":0.01222},
      {"p":5,"t":-1.5,"re":0.01171,"im":0.00138,"ab":0.01181},
      {"p":5,"t":-1.75,"re":0.01123,"im":-0.00115,"ab":0.0113},
      {"p":5,"t":-2.0,"re":0.01008,"im":-0.00374,"ab":0.01075},
      {"p":5,"t":-2.25,"re":0.00816,"im":-0.00608,"ab":0.01018},
      {"p":5,"t":-2.5,"re":0.00547,"im":-0.00784,"ab":0.00957},
      {"p":5,"t":-2.75,"re":0.00224,"im":-0.00864,"ab":0.00893},
      {"p":5,"t":-3.0,"re":-0.00112,"im":-0.00819,"ab":0.00829},
      {"p":5,"t":-3.25,"re":-0.00403,"im":-0.0065,"ab":0.00765},
      {"p":5,"t":-3.5,"re":-0.00592,"im":-0.00371,"ab":0.00698},
      {"p":5,"t":-3.75,"re":-0.00634,"im":-0.00045,"ab":0.00634},
      {"p":5,"t":-4.0,"re":-0.00515,"im":0.0025,"ab":0.00573},
      {"p":5,"t":-4.25,"re":-0.00272,"im":0.00435,"ab":0.00515},
      {"p":5,"t":-4.5,"re":0.00013,"im":0.00458,"ab":0.00458},
      {"p":5,"t":-4.75,"re":0.00246,"im":0.0032,"ab":0.00406},
      {"p":5,"t":-5.0,"re":0.00346,"im":0.0009,"ab":0.00355},
      {"p":5,"t":-5.25,"re":0.00282,"im":-0.00131,"ab":0.0031},
      {"p":5,"t":-5.5,"re":0.00109,"im":-0.00246,"ab":0.00272},
      {"p":5,"t":-5.75,"re":-0.0008,"im":-0.00221,"ab":0.00234},
      {"p":5,"t":-6.0,"re":-0.00182,"im":-0.00083,"ab":0.00202},
      {"p":5,"t":-6.25,"re":-0.00157,"im":0.00067,"ab":0.0017},
      {"p":5,"t":-6.5,"re":-0.00045,"im":0.00138,"ab":0.00144},
      {"p":5,"t":-6.75,"re":0.00067,"im":0.00102,"ab":0.00122},
      {"p":5,"t":-7.0,"re":0.00099,"im":0.00006,"ab":0.00102},
      {"p":5,"t":-7.25,"re":0.00051,"im":-0.00064,"ab":0.00083},
      {"p":5,"t":-7.5,"re":-0.00022,"im":-0.00064,"ab":0.0007},
      {"p":5,"t":-7.75,"re":-0.00054,"im":-0.00013,"ab":0.00058},
      {"p":5,"t":-8.0,"re":-0.00029,"im":0.00035,"ab":0.00045},
      {"p":5,"t":-8.25,"re":0.00013,"im":0.00035,"ab":0.00038},
      {"p":5,"t":-8.5,"re":0.00029,"im":0.00003,"ab":0.00029},
      {"p":5,"t":-8.75,"re":0.0001,"im":-0.00022,"ab":0.00022},
      {"p":5,"t":-9.0,"re":-0.00013,"im":-0.00013,"ab":0.00019},
      {"p":5,"t":-9.25,"re":-0.00013,"im":0.00006,"ab":0.00016},
      {"p":5,"t":-9.5,"re":0.0,"im":0.00013,"ab":0.00013},
      {"p":5,"t":-9.75,"re":0.0001,"im":0.00003,"ab":0.0001},
      {"p":5,"t":-10.0,"re":0.00003,"im":-0.00006,"ab":0.00006},
      {"p":5,"t":-10.25,"re":-0.00003,"im":-0.00003,"ab":0.00006},
      {"p":5,"t":-10.5,"re":-0.00003,"im":0.00003,"ab":0.00003},
      {"p":5,"t":-10.75,"re":0.0,"im":0.00003,"ab":0.00003},
      {"p":5,"t":-11.0,"re":0.0,"im":0.0,"ab":0.00003},

      {"p":6,"t":0,"re":0.00299,"im":0.00294,"ab":0.00419},
      {"p":6,"t":1.5,"re":0.00316,"im":0.00274,"ab":0.00419},
      {"p":6,"t":3,"re":0.0036,"im":0.00211,"ab":0.00417},
      {"p":6,"t":4.5,"re":0.00404,"im":0.00092,"ab":0.00415},
      {"p":6,"t":6,"re":0.00403,"im":-0.00084,"ab":0.00412},
      {"p":6,"t":7.5,"re":0.00296,"im":-0.0028,"ab":0.00407},
      {"p":6,"t":9,"re":0.00056,"im":-0.00398,"ab":0.00402},
      {"p":6,"t":10.5,"re":-0.00242,"im":-0.00314,"ab":0.00396},
      {"p":6,"t":12,"re":-0.00389,"im":0.00002,"ab":0.00389},
      {"p":6,"t":13.5,"re":-0.00191,"im":0.00331,"ab":0.00382},
      {"p":6,"t":15,"re":0.00224,"im":0.00299,"ab":0.00373},
      {"p":6,"t":16.5,"re":0.00341,"im":-0.00128,"ab":0.00364},
      {"p":6,"t":18,"re":-0.0007,"im":-0.00348,"ab":0.00355},
      {"p":6,"t":19.5,"re":-0.0034,"im":0.00055,"ab":0.00345},
      {"p":6,"t":21,"re":0.00081,"im":0.00324,"ab":0.00334},
      {"p":6,"t":22.5,"re":0.00291,"im":-0.00141,"ab":0.00324},
      {"p":6,"t":24,"re":-0.00219,"im":-0.00222,"ab":0.00312},
      {"p":6,"t":25.5,"re":-0.001,"im":0.00283,"ab":0.003},
      {"p":6,"t":27,"re":0.0028,"im":-0.00067,"ab":0.00288},
      {"p":6,"t":28.5,"re":-0.00222,"im":-0.00164,"ab":0.00276},
      {"p":6,"t":30,"re":0.00048,"im":0.0026,"ab":0.00264},
      {"p":6,"t":31.5,"re":0.00109,"im":-0.00227,"ab":0.00252},
      {"p":6,"t":33,"re":-0.00195,"im":0.00139,"ab":0.0024},
      {"p":6,"t":34.5,"re":0.00221,"im":-0.00053,"ab":0.00228},
      {"p":6,"t":36,"re":-0.00216,"im":-0.00005,"ab":0.00216},
      {"p":6,"t":37.5,"re":0.00201,"im":0.00033,"ab":0.00204},
      {"p":6,"t":39,"re":-0.00189,"im":-0.00034,"ab":0.00192},
      {"p":6,"t":40.5,"re":0.0018,"im":0.00013,"ab":0.0018},
      {"p":6,"t":42,"re":-0.00167,"im":0.00027,"ab":0.00169},
      {"p":6,"t":43.5,"re":0.00138,"im":-0.00078,"ab":0.00159},
      {"p":6,"t":45,"re":-0.00082,"im":0.00124,"ab":0.00148},
      {"p":6,"t":46.5,"re":-0.00002,"im":-0.00138,"ab":0.00138},
      {"p":6,"t":48,"re":0.00086,"im":0.00095,"ab":0.00128},
      {"p":6,"t":49.5,"re":-0.00119,"im":0.00001,"ab":0.00119},
      {"p":6,"t":51,"re":0.00062,"im":-0.00091,"ab":0.0011},
      {"p":6,"t":52.5,"re":0.00048,"im":0.0009,"ab":0.00102},
      {"p":6,"t":54,"re":-0.00093,"im":0.00012,"ab":0.00094},
      {"p":6,"t":55.5,"re":0.00009,"im":-0.00086,"ab":0.00086},
      {"p":6,"t":57,"re":0.00077,"im":0.00018,"ab":0.00079},
      {"p":6,"t":58.5,"re":-0.00016,"im":0.00071,"ab":0.00073},
      {"p":6,"t":60,"re":-0.00066,"im":-0.00006,"ab":0.00066},
      {"p":6,"t":61.5,"re":-0.0001,"im":-0.0006,"ab":0.0006},
      {"p":6,"t":63,"re":0.00047,"im":-0.00028,"ab":0.00055},
      {"p":6,"t":64.5,"re":0.00043,"im":0.00025,"ab":0.0005},
      {"p":6,"t":66,"re":0.00004,"im":0.00044,"ab":0.00045},
      {"p":6,"t":67.5,"re":-0.00027,"im":0.0003,"ab":0.00041},
      {"p":6,"t":69,"re":-0.00036,"im":0.00005,"ab":0.00036},
      {"p":6,"t":70.5,"re":-0.00029,"im":-0.00014,"ab":0.00033},
      {"p":6,"t":72,"re":-0.00018,"im":-0.00023,"ab":0.00029},
      {"p":6,"t":73.5,"re":-0.00008,"im":-0.00025,"ab":0.00026},
      {"p":6,"t":75,"re":-0.00003,"im":-0.00023,"ab":0.00023},
      {"p":6,"t":76.5,"re":0.0,"im":-0.00021,"ab":0.00021},
      {"p":6,"t":78,"re":-0.00001,"im":-0.00019,"ab":0.00019},
      {"p":6,"t":79.5,"re":-0.00003,"im":-0.00016,"ab":0.00016},
      {"p":6,"t":81,"re":-0.00007,"im":-0.00013,"ab":0.00014},
      {"p":6,"t":82.5,"re":-0.0001,"im":-0.00008,"ab":0.00013},
      {"p":6,"t":84,"re":-0.00011,"im":-0.00002,"ab":0.00011},
      {"p":6,"t":85.5,"re":-0.00009,"im":0.00004,"ab":0.0001},
      {"p":6,"t":87,"re":-0.00003,"im":0.00008,"ab":0.00009},
      {"p":6,"t":88.5,"re":0.00004,"im":0.00006,"ab":0.00008},
      {"p":6,"t":90,"re":0.00007,"im":0.0,"ab":0.00007},
      {"p":6,"t":91.5,"re":0.00003,"im":-0.00005,"ab":0.00006},
      {"p":6,"t":93,"re":-0.00004,"im":-0.00004,"ab":0.00005},
      {"p":6,"t":-1.5,"re":0.00316,"im":0.00274,"ab":0.00419},
      {"p":6,"t":-3,"re":0.0036,"im":0.00211,"ab":0.00417},
      {"p":6,"t":-4.5,"re":0.00404,"im":0.00092,"ab":0.00415},
      {"p":6,"t":-6,"re":0.00403,"im":-0.00084,"ab":0.00412},
      {"p":6,"t":-7.5,"re":0.00296,"im":-0.0028,"ab":0.00407},
      {"p":6,"t":-9,"re":0.00056,"im":-0.00398,"ab":0.00402},
      {"p":6,"t":-10.5,"re":-0.00242,"im":-0.00314,"ab":0.00396},
      {"p":6,"t":-12,"re":-0.00389,"im":0.00002,"ab":0.00389},
      {"p":6,"t":-13.5,"re":-0.00191,"im":0.00331,"ab":0.00382},
      {"p":6,"t":-15,"re":0.00224,"im":0.00299,"ab":0.00373},
      {"p":6,"t":-16.5,"re":0.00341,"im":-0.00128,"ab":0.00364},
      {"p":6,"t":-18,"re":-0.0007,"im":-0.00348,"ab":0.00355},
      {"p":6,"t":-19.5,"re":-0.0034,"im":0.00055,"ab":0.00345},
      {"p":6,"t":-21,"re":0.00081,"im":0.00324,"ab":0.00334},
      {"p":6,"t":-22.5,"re":0.00291,"im":-0.00141,"ab":0.00324},
      {"p":6,"t":-24,"re":-0.00219,"im":-0.00222,"ab":0.00312},
      {"p":6,"t":-25.5,"re":-0.001,"im":0.00283,"ab":0.003},
      {"p":6,"t":-27,"re":0.0028,"im":-0.00067,"ab":0.00288},
      {"p":6,"t":-28.5,"re":-0.00222,"im":-0.00164,"ab":0.00276},
      {"p":6,"t":-30,"re":0.00048,"im":0.0026,"ab":0.00264},
      {"p":6,"t":-31.5,"re":0.00109,"im":-0.00227,"ab":0.00252},
      {"p":6,"t":-33,"re":-0.00195,"im":0.00139,"ab":0.0024},
      {"p":6,"t":-34.5,"re":0.00221,"im":-0.00053,"ab":0.00228},
      {"p":6,"t":-36,"re":-0.00216,"im":-0.00005,"ab":0.00216},
      {"p":6,"t":-37.5,"re":0.00201,"im":0.00033,"ab":0.00204},
      {"p":6,"t":-39,"re":-0.00189,"im":-0.00034,"ab":0.00192},
      {"p":6,"t":-40.5,"re":0.0018,"im":0.00013,"ab":0.0018},
      {"p":6,"t":-42,"re":-0.00167,"im":0.00027,"ab":0.00169},
      {"p":6,"t":-43.5,"re":0.00138,"im":-0.00078,"ab":0.00159},
      {"p":6,"t":-45,"re":-0.00082,"im":0.00124,"ab":0.00148},
      {"p":6,"t":-46.5,"re":-0.00002,"im":-0.00138,"ab":0.00138},
      {"p":6,"t":-48,"re":0.00086,"im":0.00095,"ab":0.00128},
      {"p":6,"t":-49.5,"re":-0.00119,"im":0.00001,"ab":0.00119},
      {"p":6,"t":-51,"re":0.00062,"im":-0.00091,"ab":0.0011},
      {"p":6,"t":-52.5,"re":0.00048,"im":0.0009,"ab":0.00102},
      {"p":6,"t":-54,"re":-0.00093,"im":0.00012,"ab":0.00094},
      {"p":6,"t":-55.5,"re":0.00009,"im":-0.00086,"ab":0.00086},
      {"p":6,"t":-57,"re":0.00077,"im":0.00018,"ab":0.00079},
      {"p":6,"t":-58.5,"re":-0.00016,"im":0.00071,"ab":0.00073},
      {"p":6,"t":-60,"re":-0.00066,"im":-0.00006,"ab":0.00066},
      {"p":6,"t":-61.5,"re":-0.0001,"im":-0.0006,"ab":0.0006},
      {"p":6,"t":-63,"re":0.00047,"im":-0.00028,"ab":0.00055},
      {"p":6,"t":-64.5,"re":0.00043,"im":0.00025,"ab":0.0005},
      {"p":6,"t":-66,"re":0.00004,"im":0.00044,"ab":0.00045},
      {"p":6,"t":-67.5,"re":-0.00027,"im":0.0003,"ab":0.00041},
      {"p":6,"t":-69,"re":-0.00036,"im":0.00005,"ab":0.00036},
      {"p":6,"t":-70.5,"re":-0.00029,"im":-0.00014,"ab":0.00033},
      {"p":6,"t":-72,"re":-0.00018,"im":-0.00023,"ab":0.00029},
      {"p":6,"t":-73.5,"re":-0.00008,"im":-0.00025,"ab":0.00026},
      {"p":6,"t":-75,"re":-0.00003,"im":-0.00023,"ab":0.00023},
      {"p":6,"t":-76.5,"re":0.0,"im":-0.00021,"ab":0.00021},
      {"p":6,"t":-78,"re":-0.00001,"im":-0.00019,"ab":0.00019},
      {"p":6,"t":-79.5,"re":-0.00003,"im":-0.00016,"ab":0.00016},
      {"p":6,"t":-81,"re":-0.00007,"im":-0.00013,"ab":0.00014},
      {"p":6,"t":-82.5,"re":-0.0001,"im":-0.00008,"ab":0.00013},
      {"p":6,"t":-84,"re":-0.00011,"im":-0.00002,"ab":0.00011},
      {"p":6,"t":-85.5,"re":-0.00009,"im":0.00004,"ab":0.0001},
      {"p":6,"t":-87,"re":-0.00003,"im":0.00008,"ab":0.00009},
      {"p":6,"t":-88.5,"re":0.00004,"im":0.00006,"ab":0.00008},
      {"p":6,"t":-90,"re":0.00007,"im":0.0,"ab":0.00007},
      {"p":6,"t":-91.5,"re":0.00003,"im":-0.00005,"ab":0.00006},
      {"p":6,"t":-93,"re":-0.00004,"im":-0.00004,"ab":0.00005}
    ]
  },
  "columns": 2,
  "spacing": {"row": 34, "column": 53},
  "bounds": "flush",
  "concat": [
    {
      "width": 217,
      "height": 192,
      "title": "0.1 нДж 100 м MSE: 1e−03",
      "transform": [{"filter": "datum.p == 1"}],
      "encoding": {
        "x": {"field": "t", "type": "quantitative", "scale": {"domain": [-17.6, 16.4], "nice": false}, "axis": {"values": [-15, -10, -5, 0, 5, 10, 15], "format": "d", "title": null}},
        "y": {"field": "v", "type": "quantitative", "scale": {"domain": [-3.33, 3.23], "nice": false}, "axis": {"values": [-3, -2, -1, 0, 1, 2, 3], "format": "d", "title": "Амплитуда", "titleX": -17, "titleY": 96}}
      },
      "layer": [
        {"transform": [{"fold": ["re", "im", "ab"], "as": ["k", "v"]}], "mark": "line", "encoding": {"color": {"field": "k", "type": "nominal", "scale": {"domain": ["re", "im", "ab"], "range": ["#6aaee0", "#f7a772", "#7fc795"]}, "legend": null}}},
        {"transform": [{"fold": ["re", "im", "ab"], "as": ["s", "v"]}], "mark": "point", "encoding": {"fill": {"field": "s", "type": "nominal", "scale": {"domain": ["ab", "im", "re"], "range": ["#1f9a4e", "#f0621f", "#1f5d9c"]}, "legend": null}, "order": {"field": "s", "sort": "descending"}}}
      ]
    },
    {
      "width": 226,
      "height": 192,
      "title": "0.1 нДж 500 м MSE: 1e−02",
      "transform": [{"filter": "datum.p == 2"}],
      "encoding": {
        "x": {"field": "t", "type": "quantitative", "scale": {"domain": [-33.4, 33.2], "nice": false}, "axis": {"values": [-30, -20, -10, 0, 10, 20, 30], "format": "d", "title": null}},
        "y": {"field": "v", "type": "quantitative", "scale": {"domain": [-1.39, 1.39], "nice": false}, "axis": {"values": [-1, -0.5, 0, 0.5, 1], "labelExpr": "datum.value == 0 ? '0' : format(datum.value, '.1f')", "title": null}}
      },
      "layer": [
        {"transform": [{"filter": "abs(datum.t) <= 24"}, {"fold": ["re", "im", "ab"], "as": ["k", "v"]}], "mark": "line", "encoding": {"color": {"field": "k", "type": "nominal", "scale": {"domain": ["re", "im", "ab"], "range": ["#6aaee0", "#f7a772", "#7fc795"]}, "legend": {"orient": "none", "legendX": 233, "legendY": 47, "symbolType": "stroke", "symbolSize": 196, "symbolStrokeWidth": 2, "rowPadding": 0.5, "labelOffset": 6, "labelExpr": "datum.label == 're' ? 'PINN Re(A)' : datum.label == 'im' ? 'PINN Im(A)' : 'PINN |A|'"}}}},
        {"transform": [{"filter": "abs(datum.t) >= 24"}, {"bin": {"extent": [-40, 40], "step": 40}, "field": "t", "as": "side"}], "mark": {"type": "line", "color": "#8cc89e", "strokeWidth": 1.2}, "encoding": {"y": {"datum": 0, "type": "quantitative"}, "detail": {"field": "side", "type": "ordinal"}}},
        {"transform": [{"fold": ["re", "im", "ab"], "as": ["s", "v"]}], "mark": "point", "encoding": {"fill": {"field": "s", "type": "nominal", "scale": {"domain": ["ab", "im", "re"], "range": ["#1f9a4e", "#f0621f", "#1f5d9c"]}, "legend": {"orient": "none", "legendX": 233, "legendY": 91, "values": ["re", "im", "ab"], "symbolType": "circle", "symbolSize": 14, "rowPadding": 2, "labelOffset": 2, "labelExpr": "datum.label == 're' ? 'SSFM Re(A)' : datum.label == 'im' ? 'SSFM Im(A)' : 'SSFM |A|'"}}, "order": {"field": "s", "sort": "descending"}}}
      ]
    },
    {
      "width": 217,
      "height": 193,
      "title": "1e−03\u00a0 нДж 100 м MSE: 6e−07",
      "transform": [{"filter": "datum.p == 3"}],
      "encoding": {
        "x": {"field": "t", "type": "quantitative", "scale": {"domain": [-12, 11.1], "nice": false}, "axis": {"values": [-10, -5, 0, 5, 10], "format": "d", "title": null}},
        "y": {"field": "v", "type": "quantitative", "scale": {"domain": [-0.323, 0.45], "nice": false}, "axis": {"values": [-0.3, -0.2, -0.1, 0, 0.1, 0.2, 0.3, 0.4], "labelExpr": "datum.value == 0 ? '0' : format(datum.value, '.1f')", "title": "Амплитуда", "titleX": -25, "titleY": 96}}
      },
      "layer": [
        {"transform": [{"fold": ["re", "im", "ab"], "as": ["k", "v"]}], "mark": "line", "encoding": {"color": {"field": "k", "type": "nominal", "scale": {"domain": ["re", "im", "ab"], "range": ["#6aaee0", "#f7a772", "#7fc795"]}, "legend": null}}},
        {"transform": [{"fold": ["re", "im", "ab"], "as": ["s", "v"]}], "mark": "point", "encoding": {"fill": {"field": "s", "type": "nominal", "scale": {"domain": ["ab", "im", "re"], "range": ["#1f9a4e", "#f0621f", "#1f5d9c"]}, "legend": null}, "order": {"field": "s", "sort": "descending"}}}
      ]
    },
    {
      "width": 226,
      "height": 193,
      "title": "1e−03 нДж 1000 м MSE: 3e−05",
      "transform": [{"filter": "datum.p == 4"}],
      "encoding": {
        "x": {"field": "t", "type": "quantitative", "scale": {"domain": [-102, 101.5], "nice": false}, "axis": {"values": [-100, -75, -50, -25, 0, 25, 50, 75, 100], "format": "d", "title": null}},
        "y": {"field": "v", "type": "quantitative", "scale": {"domain": [-0.137, 0.142], "nice": false}, "axis": {"values": [-0.1, -0.05, 0, 0.05, 0.1], "labelExpr": "datum.value == 0 ? '0' : format(datum.value, '.2f')", "title": null}}
      },
      "layer": [
        {"transform": [{"filter": "abs(datum.t) <= 65"}, {"fold": ["re", "im", "ab"], "as": ["k", "v"]}], "mark": "line", "encoding": {"color": {"field": "k", "type": "nominal", "scale": {"domain": ["re", "im", "ab"], "range": ["#6aaee0", "#f7a772", "#7fc795"]}, "legend": {"orient": "none", "legendX": 233, "legendY": 45, "symbolType": "stroke", "symbolSize": 196, "symbolStrokeWidth": 2, "rowPadding": 0.5, "labelOffset": 6, "labelExpr": "datum.label == 're' ? 'PINN Re(A)' : datum.label == 'im' ? 'PINN Im(A)' : 'PINN |A|'"}}}},
        {"transform": [{"filter": "abs(datum.t) >= 64.5"}, {"bin": {"extent": [-100, 100], "step": 100}, "field": "t", "as": "side"}], "mark": {"type": "line", "color": "#8cc89e", "strokeWidth": 1.2}, "encoding": {"y": {"datum": 0, "type": "quantitative"}, "detail": {"field": "side", "type": "ordinal"}}},
        {"transform": [{"fold": ["re", "im", "ab"], "as": ["s", "v"]}], "mark": "point", "encoding": {"fill": {"field": "s", "type": "nominal", "scale": {"domain": ["ab", "im", "re"], "range": ["#1f9a4e", "#f0621f", "#1f5d9c"]}, "legend": {"orient": "none", "legendX": 233, "legendY": 89, "values": ["re", "im", "ab"], "symbolType": "circle", "symbolSize": 14, "rowPadding": 2, "labelOffset": 2, "labelExpr": "datum.label == 're' ? 'SSFM Re(A)' : datum.label == 'im' ? 'SSFM Im(A)' : 'SSFM |A|'"}}, "order": {"field": "s", "sort": "descending"}}}
      ]
    },
    {
      "width": 217,
      "height": 189,
      "title": "1e−06\u00a0 нДж 100 м MSE: 6e−10",
      "transform": [{"filter": "datum.p == 5"}],
      "encoding": {
        "x": {"field": "t", "type": "quantitative", "scale": {"domain": [-12, 11.1], "nice": false}, "axis": {"values": [-10, -5, 0, 5, 10], "format": "d", "title": "t, ps"}},
        "y": {"field": "v", "type": "quantitative", "scale": {"domain": [-0.0099, 0.0142], "nice": false}, "axis": {"values": [-0.005, 0, 0.005, 0.01], "labelExpr": "datum.value == 0 ? '0' : datum.value == 0.005 ? '0.050' : format(datum.value, '.3f')", "title": "Амплитуда", "titleX": -37, "titleY": 87}}
      },
      "layer": [
        {"transform": [{"fold": ["re", "im", "ab"], "as": ["k", "v"]}], "mark": "line", "encoding": {"color": {"field": "k", "type": "nominal", "scale": {"domain": ["re", "im", "ab"], "range": ["#6aaee0", "#f7a772", "#7fc795"]}, "legend": null}}},
        {"transform": [{"fold": ["re", "im", "ab"], "as": ["s", "v"]}], "mark": "point", "encoding": {"fill": {"field": "s", "type": "nominal", "scale": {"domain": ["ab", "im", "re"], "range": ["#1f9a4e", "#f0621f", "#1f5d9c"]}, "legend": null}, "order": {"field": "s", "sort": "descending"}}}
      ]
    },
    {
      "width": 226,
      "height": 189,
      "title": "1e−06 нДж 1000 м MSE: 9e−08",
      "transform": [{"filter": "datum.p == 6"}],
      "encoding": {
        "x": {"field": "t", "type": "quantitative", "scale": {"domain": [-102, 101.5], "nice": false}, "axis": {"values": [-100, -75, -50, -25, 0, 25, 50, 75, 100], "format": "d", "title": "t, ps"}},
        "y": {"field": "v", "type": "quantitative", "scale": {"domain": [-0.00443, 0.00458], "nice": false}, "axis": {"values": [-0.004, -0.002, 0, 0.002, 0.004], "labelExpr": "datum.value == 0 ? '0' : format(datum.value, '.3f')", "title": null}}
      },
      "layer": [
        {"transform": [{"filter": "abs(datum.t) <= 65"}, {"fold": ["re", "im", "ab"], "as": ["k", "v"]}], "mark": "line", "encoding": {"color": {"field": "k", "type": "nominal", "scale": {"domain": ["re", "im", "ab"], "range": ["#6aaee0", "#f7a772", "#7fc795"]}, "legend": {"orient": "none", "legendX": 233, "legendY": 48, "symbolType": "stroke", "symbolSize": 196, "symbolStrokeWidth": 2, "rowPadding": 0.5, "labelOffset": 6, "labelExpr": "datum.label == 're' ? 'PINN Re(A)' : datum.label == 'im' ? 'PINN Im(A)' : 'PINN |A|'"}}}},
        {"transform": [{"filter": "abs(datum.t) >= 64.5"}, {"bin": {"extent": [-100, 100], "step": 100}, "field": "t", "as": "side"}], "mark": {"type": "line", "color": "#8cc89e", "strokeWidth": 1.2}, "encoding": {"y": {"datum": 0, "type": "quantitative"}, "detail": {"field": "side", "type": "ordinal"}}},
        {"transform": [{"fold": ["re", "im", "ab"], "as": ["s", "v"]}], "mark": "point", "encoding": {"fill": {"field": "s", "type": "nominal", "scale": {"domain": ["ab", "im", "re"], "range": ["#1f9a4e", "#f0621f", "#1f5d9c"]}, "legend": {"orient": "none", "legendX": 233, "legendY": 92, "values": ["re", "im", "ab"], "symbolType": "circle", "symbolSize": 14, "rowPadding": 2, "labelOffset": 2, "labelExpr": "datum.label == 're' ? 'SSFM Re(A)' : datum.label == 'im' ? 'SSFM Im(A)' : 'SSFM |A|'"}}, "order": {"field": "s", "sort": "descending"}}}
      ]
    }
  ],
  "resolve": {"scale": {"color": "independent", "fill": "independent", "x": "independent", "y": "independent"}, "legend": {"color": "independent", "fill": "independent"}},
  "config": {
    "font": "Liberation Serif",
    "view": {"stroke": null},
    "axis": {
      "grid": false,
      "labelFont": "Liberation Serif",
      "labelFontSize": 13,
      "labelColor": "#1a1a1a",
      "labelPadding": 0,
      "labelOverlap": false,
      "labelFlush": false,
      "domainColor": "#666666",
      "tickColor": "#666666",
      "tickSize": 3,
      "titleFont": "Liberation Serif",
      "titleFontSize": 14,
      "titleFontWeight": "normal",
      "titleColor": "#1a1a1a"
    },
    "axisX": {"titlePadding": 0},
    "title": {"font": "Liberation Serif", "fontSize": 14, "fontWeight": "normal", "color": "#1a1a1a", "offset": 1},
    "legend": {"labelFont": "Liberation Serif", "labelFontSize": 12, "labelColor": "#1a1a1a", "rowPadding": 0, "title": null},
    "line": {"strokeWidth": 1},
    "point": {"filled": true, "size": 11, "opacity": 1}
  }
}
